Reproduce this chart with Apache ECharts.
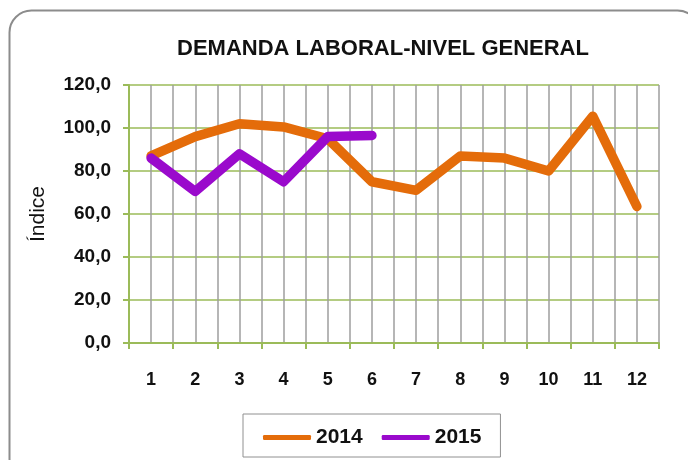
<!DOCTYPE html>
<html>
<head>
<meta charset="utf-8">
<script src="https://cdn.jsdelivr.net/npm/echarts@6/dist/echarts.min.js"></script>
<style>
  html, body { margin: 0; padding: 0; background: #fff; }
  #main { width: 688px; height: 460px; }
</style>
</head>
<body>
<div id="main"></div>
<script>
// datos
var meses = ['1', '2', '3', '4', '5', '6', '7', '8', '9', '10', '11', '12'];
var serie2014 = [87, 96, 102, 100.5, 95, 75, 71, 87, 86, 80, 105.5, 63.5];
var serie2015 = [86, 70.5, 88, 75, 96, 96.5];
var ticksY = [0, 20, 40, 60, 80, 100, 120];

var chartDom = document.getElementById('main');
var myChart = echarts.init(chartDom);
var option;

var fuente = 'Liberation Sans, Arial, sans-serif';

option = {
    backgroundColor: '#fff',
    animation: false,
    title: {
        text: 'DEMANDA LABORAL-NIVEL GENERAL',
        left: 378,
        top: 33,
        textAlign: 'center',
        textStyle: { fontFamily: fuente, fontSize: 22, fontWeight: 'bold', color: '#111' }
    },
    graphic: [
        {
            // marco redondeado
            type: 'rect',
            shape: { x: 9.5, y: 10.5, width: 690, height: 470, r: 22 },
            style: { fill: 'none', stroke: '#8c8c8c', lineWidth: 2 },
            z: -1
        }
    ],
    legend: {
        data: ['2014', '2015'],
        left: 243,
        top: 414,
        itemWidth: 48,
        itemHeight: 5,
        itemGap: 19,
        padding: [13, 19, 9, 20],
        borderColor: '#909090',
        borderWidth: 1,
        textStyle: { fontFamily: fuente, fontSize: 21, fontWeight: 'bold', color: '#111' },
        icon: 'roundRect'
    },
    grid: {
        left: 129,
        right: 29,
        top: 85,
        bottom: 117
    },
    xAxis: [
        {
            type: 'category',
            data: meses,
            boundaryGap: true,
            axisLine: { lineStyle: { color: '#9BBB59', width: 2 } },
            axisTick: { show: true, length: 6, lineStyle: { color: '#9BBB59', width: 2 } },
            axisLabel: { margin: 28, fontFamily: fuente, fontSize: 18, fontWeight: 'bold', color: '#111' },
            splitLine: { show: false }
        },
        {
            // líneas verticales grises cada media categoría
            type: 'value',
            min: 0,
            max: 24,
            interval: 1,
            position: 'top',
            axisLine: { show: false },
            axisTick: { show: false },
            axisLabel: { show: false },
            splitLine: { show: true, lineStyle: { color: '#9e9e9e', width: 1.5 } }
        }
    ],
    yAxis: [
        {
            type: 'value',
            min: ticksY[0],
            max: ticksY[ticksY.length - 1],
            interval: 20,
            name: 'Índice',
            nameLocation: 'middle',
            nameGap: 80,
            nameTextStyle: { fontFamily: fuente, fontSize: 21, color: '#111' },
            axisLine: { show: true, lineStyle: { color: '#9BBB59', width: 2 } },
            axisTick: { show: true, length: 6, lineStyle: { color: '#9BBB59', width: 2 } },
            axisLabel: {
                margin: 18,
                fontFamily: fuente,
                fontSize: 19,
                fontWeight: 'bold',
                color: '#111',
                formatter: function (v) { return v.toFixed(1).replace('.', ','); }
            },
            splitLine: { show: true, lineStyle: { color: '#9BBB59', width: 1.5 } }
        }
    ],
    series: [
        {
            name: '2014',
            type: 'line',
            data: serie2014,
            showSymbol: false,
            symbol: 'none',
            lineStyle: { color: '#E46C0A', width: 9.5, cap: 'round', join: 'round' },
            itemStyle: { color: '#E46C0A' },
            z: 3
        },
        {
            name: '2015',
            type: 'line',
            data: serie2015,
            showSymbol: false,
            symbol: 'none',
            lineStyle: { color: '#9A0ACC', width: 9.5, cap: 'round', join: 'round' },
            itemStyle: { color: '#9A0ACC' },
            z: 4
        }
    ]
};

option && myChart.setOption(option);
</script>
</body>
</html>
